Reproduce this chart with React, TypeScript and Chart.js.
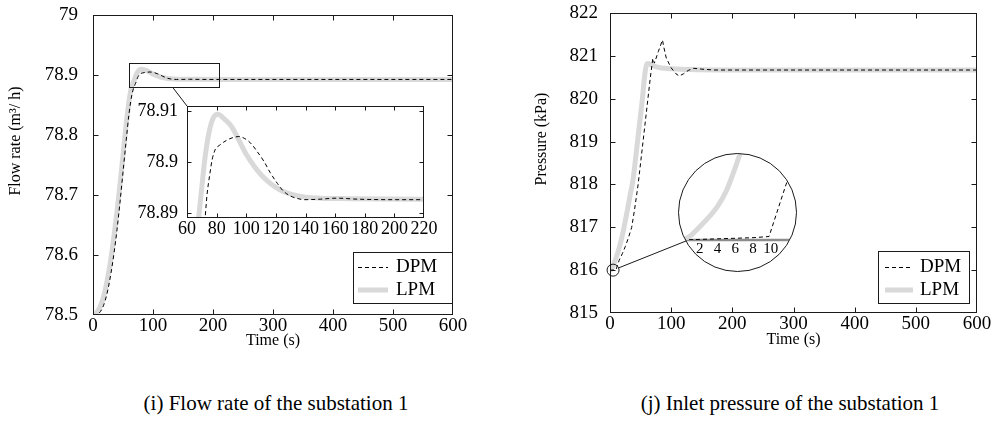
import React, { useEffect, useRef } from 'react';
import { Chart, registerables } from 'chart.js';

Chart.register(...registerables);

const FONT = '"Liberation Serif", "Times New Roman", serif';
const LPM_COLOR = '#d9d9d9';

// ---------------- data ----------------
const seriesNames = ['DPM', 'LPM'];

const timeTicks = [0, 100, 200, 300, 400, 500, 600];
const flowYTicks = [78.5, 78.6, 78.7, 78.8, 78.9, 79];
const flowInsetXTicks = [60, 80, 100, 120, 140, 160, 180, 200, 220];
const flowInsetYTicks = [78.89, 78.9, 78.91];
const pressureYTicks = [815, 816, 817, 818, 819, 820, 821, 822];
const pressureInsetXTicks = [2, 4, 6, 8, 10];

const flowLpmTime = [0, 5, 10, 15, 20, 25, 30, 35, 40, 45, 50, 55, 60, 64, 68, 70, 72, 75, 78, 81, 85, 90, 95, 100, 105, 110, 115, 120, 125, 130, 140, 150, 170, 220, 600];
const flowLpmValue = [78.5, 78.503, 78.51, 78.522, 78.54, 78.565, 78.595, 78.632, 78.672, 78.718, 78.766, 78.815, 78.856, 78.879, 78.8895, 78.895, 78.9005, 78.906, 78.9088, 78.9094, 78.9085, 78.907, 78.9043, 78.9015, 78.8993, 78.8975, 78.8961, 78.895, 78.8942, 78.8937, 78.8931, 78.8929, 78.8928, 78.8927, 78.8927];

const flowDpmTime = [0, 5, 10, 15, 20, 25, 30, 35, 40, 45, 50, 55, 60, 65, 70, 72.2, 73.5, 75.5, 77, 79, 82, 87, 91, 95, 99, 103, 107, 112, 116, 121, 125, 130, 135, 139, 150, 161, 175, 200, 600];
const flowDpmValue = [78.5, 78.5, 78.503, 78.51, 78.523, 78.543, 78.57, 78.603, 78.642, 78.688, 78.738, 78.788, 78.835, 78.868, 78.884, 78.889, 78.8935, 78.8978, 78.9005, 78.9024, 78.9033, 78.9043, 78.9048, 78.905, 78.9046, 78.9037, 78.9022, 78.9001, 78.898, 78.8958, 78.8943, 78.8933, 78.8928, 78.8926, 78.8927, 78.8929, 78.8927, 78.8926, 78.8926];

const pressureLpmTime = [0, 0.5, 1, 2, 3, 4, 5, 6, 7, 8, 10, 13, 16, 20, 23, 27, 30, 33, 37, 41, 45, 49, 53, 56, 58, 60, 62, 66, 70, 80, 90, 100, 130, 200, 600];
const pressureLpmValue = [816, 816.003, 816.008, 816.023, 816.039, 816.058, 816.085, 816.125, 816.17, 816.21, 816.29, 816.42, 816.57, 816.8, 817, 817.3, 817.52, 817.76, 818.05, 818.5, 819, 819.5, 820, 820.45, 820.68, 820.8, 820.82, 820.8, 820.77, 820.73, 820.71, 820.7, 820.68, 820.67, 820.67];

const pressureDpmTime = [0, 2, 4, 6, 8, 9.8, 11.7, 13, 15, 20, 25, 30, 35.5, 40, 46, 54, 62, 66, 70, 72.6, 79, 85.8, 88, 92, 100, 108, 113, 120, 128, 137, 150, 170, 600];
const pressureDpmValue = [816, 816.001, 816.002, 816.003, 816.004, 816.006, 816.095, 816.15, 816.23, 816.38, 816.55, 816.75, 817, 817.4, 818, 819, 820, 820.5, 820.94, 820.83, 821.1, 821.37, 821.2, 820.95, 820.72, 820.58, 820.53, 820.58, 820.66, 820.71, 820.69, 820.67, 820.67];

// zoom indicators (data units)
const flowZoomX = [60, 210];
const flowZoomY = [78.88, 78.92];
const flowZoomLinkX = 133;
const pressureZoomCenter = [5, 816];

// ---------------- layout ----------------
const L_MAIN = { left: 0, top: 0, w: 480, h: 360 };
const R_MAIN = { left: 500, top: 0, w: 496, h: 360 };
const L_INSET = { left: 120, top: 85, w: 320, h: 170 };
const R_INSET = { left: 678, top: 153, w: 119, h: 119 };
const L_INSET_AREA = { left: 187, top: 106 }; // page coords of inset plot corner
const R_INSET_ORIGIN = { x: 686, y: 241 }; // page coords where connector meets magnifier

const pts = (t: number[], v: number[]) => t.map((x, i) => ({ x, y: v[i] }));
const fmt = (v: any) => String(Math.round(Number(v) * 10000) / 10000);

function dpmDataset(t: number[], v: number[], smooth: boolean) {
  return {
    label: seriesNames[0],
    data: pts(t, v),
    borderColor: '#000',
    borderWidth: 1,
    borderDash: [4, 3],
    pointRadius: 0,
    fill: false,
    tension: 0,
    cubicInterpolationMode: smooth ? 'monotone' : 'default',
    clip: 0,
    order: 0,
  };
}
function lpmDataset(t: number[], v: number[]) {
  return {
    label: seriesNames[1],
    data: pts(t, v),
    borderColor: LPM_COLOR,
    borderWidth: 5,
    pointRadius: 0,
    fill: false,
    cubicInterpolationMode: 'monotone',
    clip: 0,
    order: 1,
  };
}

type Spec = {
  xMin: number; xMax: number; xTicks: number[];
  yMin: number; yMax: number; yTicks: number[];
  yWidth?: number; xHeight: number; showY: boolean;
  padding: { top: number; right: number; left: number; bottom: number };
  tickFont: number; yGap: number;
  datasets: any[];
  plugin: any;
};

function buildConfig(s: Spec): any {
  const yScale: any = {
    type: 'linear', min: s.yMin, max: s.yMax, bounds: 'data', display: s.showY,
    afterBuildTicks: (sc: any) => { sc.ticks = s.yTicks.map((value) => ({ value })); },
    grid: { display: false, drawTicks: true, tickLength: s.yGap },
    border: { display: false },
    ticks: { font: { family: FONT, size: s.tickFont }, color: '#000', padding: 0, autoSkip: false, callback: fmt },
  };
  if (s.yWidth !== undefined) {
    const w = s.yWidth;
    yScale.afterFit = (sc: any) => { sc.width = w; };
  }
  return {
    type: 'line',
    data: { datasets: s.datasets },
    options: {
      animation: false,
      responsive: false,
      devicePixelRatio: 1,
      events: [],
      layout: { padding: s.padding },
      plugins: { legend: { display: false }, tooltip: { enabled: false } },
      scales: {
        x: {
          type: 'linear', min: s.xMin, max: s.xMax, bounds: 'data',
          afterBuildTicks: (sc: any) => { sc.ticks = s.xTicks.map((value) => ({ value })); },
          afterFit: (sc: any) => { sc.height = s.xHeight; },
          grid: { display: false, drawTicks: false },
          border: { display: false },
          ticks: { font: { family: FONT, size: s.tickFont }, color: '#000', padding: 0, autoSkip: false, maxRotation: 0, minRotation: 0, callback: fmt },
        },
        y: yScale,
      },
    },
    plugins: [s.plugin],
  };
}

type FrameOpts = {
  fill?: boolean;
  box?: boolean;
  tickLen?: number;
  under?: (chart: any) => void;
  over?: (chart: any) => void;
};

function framePlugin(o: FrameOpts) {
  return {
    id: 'frame',
    beforeDraw(chart: any) {
      if (!o.fill) return;
      const { ctx, chartArea: a } = chart;
      ctx.save();
      ctx.fillStyle = '#fff';
      ctx.fillRect(a.left, a.top, a.right - a.left, a.bottom - a.top);
      ctx.restore();
    },
    beforeDatasetsDraw(chart: any) {
      if (o.under) { chart.ctx.save(); o.under(chart); chart.ctx.restore(); }
    },
    afterDraw(chart: any) {
      const { ctx, chartArea: a, scales } = chart;
      ctx.save();
      if (o.box) {
        const L = Math.round(a.left) + 0.5, R = Math.round(a.right) - 0.5;
        const T = Math.round(a.top) + 0.5, B = Math.round(a.bottom) - 0.5;
        ctx.strokeStyle = '#1a1a1a';
        ctx.lineWidth = 1;
        ctx.setLineDash([]);
        ctx.strokeRect(L, T, R - L, B - T);
        const len = o.tickLen || 4;
        ctx.beginPath();
        for (const t of scales.x.ticks) {
          const px = Math.round(scales.x.getPixelForValue(t.value)) + 0.5;
          if (px <= L + 1 || px >= R - 1) continue;
          ctx.moveTo(px, B); ctx.lineTo(px, B - len);
          ctx.moveTo(px, T); ctx.lineTo(px, T + len);
        }
        for (const t of scales.y.ticks) {
          const py = Math.round(scales.y.getPixelForValue(t.value)) + 0.5;
          if (py <= T + 1 || py >= B - 1) continue;
          ctx.moveTo(L, py); ctx.lineTo(L + len, py);
          ctx.moveTo(R, py); ctx.lineTo(R - len, py);
        }
        ctx.stroke();
      }
      if (o.over) o.over(chart);
      ctx.restore();
    },
  };
}

function drawTitle(ctx: any, text: string, x: number, y: number, rotate: boolean) {
  ctx.save();
  ctx.fillStyle = '#000';
  ctx.font = `16px ${FONT}`;
  ctx.textAlign = 'center';
  ctx.textBaseline = 'middle';
  ctx.translate(x, y);
  if (rotate) ctx.rotate(-Math.PI / 2);
  ctx.fillText(text, 0, 0);
  ctx.restore();
}

type LegendBox = { x: number; y: number; w: number; h: number; s0: number; s1: number; tx: number; r1: number; r2: number };
function drawLegend(ctx: any, L: LegendBox) {
  ctx.save();
  ctx.fillStyle = '#fff';
  ctx.fillRect(L.x, L.y, L.w, L.h);
  ctx.strokeStyle = '#1a1a1a';
  ctx.lineWidth = 1;
  ctx.setLineDash([]);
  ctx.strokeRect(L.x + 0.5, L.y + 0.5, L.w, L.h);
  ctx.beginPath();
  ctx.setLineDash([4, 3]);
  ctx.strokeStyle = '#000';
  ctx.moveTo(L.x + L.s0, L.y + L.r1 + 0.5);
  ctx.lineTo(L.x + L.s1, L.y + L.r1 + 0.5);
  ctx.stroke();
  ctx.beginPath();
  ctx.setLineDash([]);
  ctx.strokeStyle = LPM_COLOR;
  ctx.lineWidth = 5;
  ctx.moveTo(L.x + L.s0, L.y + L.r2);
  ctx.lineTo(L.x + L.s1, L.y + L.r2);
  ctx.stroke();
  ctx.fillStyle = '#000';
  ctx.font = `19px ${FONT}`;
  ctx.textAlign = 'left';
  ctx.textBaseline = 'middle';
  ctx.fillText(seriesNames[0], L.x + L.tx, L.y + L.r1);
  ctx.fillText(seriesNames[1], L.x + L.tx, L.y + L.r2);
  ctx.restore();
}

function flowMainConfig() {
  return buildConfig({
    xMin: 0, xMax: 600, xTicks: timeTicks,
    yMin: 78.5, yMax: 79, yTicks: flowYTicks,
    yWidth: 93, xHeight: 45, showY: true,
    padding: { top: 15, right: 27, left: 0, bottom: 0 },
    tickFont: 19, yGap: 15,
    datasets: [dpmDataset(flowDpmTime, flowDpmValue, true), lpmDataset(flowLpmTime, flowLpmValue)],
    plugin: framePlugin({
      box: true, tickLen: 5,
      over: (chart) => {
        const { ctx, chartArea: a, scales: { x, y } } = chart;
        drawTitle(ctx, 'Flow rate (m³/ h)', 16, 141, true);
        drawTitle(ctx, 'Time (s)', (a.left + a.right) / 2, 341, false);
        drawLegend(ctx, { x: 353, y: 252, w: 99, h: 51, s0: 5, s1: 35, tx: 43, r1: 15, r2: 38 });
        // zoom rectangle
        const x0 = Math.round(x.getPixelForValue(flowZoomX[0])) + 0.5;
        const x1 = Math.round(x.getPixelForValue(flowZoomX[1])) + 0.5;
        const y0 = Math.round(y.getPixelForValue(flowZoomY[1])) + 0.5;
        const y1 = Math.round(y.getPixelForValue(flowZoomY[0])) + 0.5;
        ctx.setLineDash([]);
        ctx.strokeStyle = '#1a1a1a';
        ctx.lineWidth = 1;
        ctx.strokeRect(x0, y0, x1 - x0, y1 - y0);
        ctx.beginPath();
        ctx.moveTo(x.getPixelForValue(flowZoomLinkX), y1);
        ctx.lineTo(L_INSET_AREA.left - L_MAIN.left, L_INSET_AREA.top - L_MAIN.top);
        ctx.stroke();
      },
    }),
  });
}

function flowInsetConfig() {
  return buildConfig({
    xMin: 60, xMax: 220, xTicks: flowInsetXTicks,
    yMin: 78.889, yMax: 78.911, yTicks: flowInsetYTicks,
    yWidth: 67, xHeight: 37, showY: true,
    padding: { top: 21, right: 16, left: 0, bottom: 0 },
    tickFont: 18, yGap: 9,
    datasets: [dpmDataset(flowDpmTime, flowDpmValue, true), lpmDataset(flowLpmTime, flowLpmValue)],
    plugin: framePlugin({ fill: true, box: true, tickLen: 4 }),
  });
}

function pressureMainConfig() {
  return buildConfig({
    xMin: 0, xMax: 600, xTicks: timeTicks,
    yMin: 815, yMax: 822, yTicks: pressureYTicks,
    yWidth: 110, xHeight: 47, showY: true,
    padding: { top: 13, right: 19, left: 0, bottom: 0 },
    tickFont: 19, yGap: 12,
    datasets: [dpmDataset(pressureDpmTime, pressureDpmValue, false), lpmDataset(pressureLpmTime, pressureLpmValue)],
    plugin: framePlugin({
      box: true, tickLen: 5,
      over: (chart) => {
        const { ctx, chartArea: a, scales: { x, y } } = chart;
        drawTitle(ctx, 'Pressure (kPa)', 42, 139, true);
        drawTitle(ctx, 'Time (s)', (a.left + a.right) / 2, 340, false);
        drawLegend(ctx, { x: 378, y: 251, w: 91, h: 52, s0: 7, s1: 35, tx: 42, r1: 16, r2: 39 });
        const cx = x.getPixelForValue(pressureZoomCenter[0]);
        const cy = y.getPixelForValue(pressureZoomCenter[1]);
        const r = 6;
        ctx.setLineDash([]);
        ctx.strokeStyle = '#1a1a1a';
        ctx.lineWidth = 1;
        ctx.beginPath();
        ctx.arc(cx, cy, r, 0, Math.PI * 2);
        ctx.stroke();
        const tx = R_INSET_ORIGIN.x - R_MAIN.left;
        const ty = R_INSET_ORIGIN.y - R_MAIN.top;
        const d = Math.hypot(tx - cx, ty - cy);
        ctx.beginPath();
        ctx.moveTo(cx + (r * (tx - cx)) / d, cy + (r * (ty - cy)) / d);
        ctx.lineTo(tx, ty);
        ctx.stroke();
      },
    }),
  });
}

function pressureInsetConfig() {
  return buildConfig({
    xMin: 0, xMax: 12.5, xTicks: pressureInsetXTicks,
    yMin: 816, yMax: 816.15, yTicks: [],
    xHeight: 32, showY: false,
    padding: { top: 0, right: 4, left: 4, bottom: 0 },
    tickFont: 15, yGap: 0,
    datasets: [dpmDataset(pressureDpmTime, pressureDpmValue, false), lpmDataset(pressureLpmTime, pressureLpmValue)],
    plugin: framePlugin({
      under: (chart) => {
        const { ctx, chartArea: a } = chart;
        ctx.strokeStyle = '#8c8c8c';
        ctx.lineWidth = 2.5;
        ctx.beginPath();
        ctx.moveTo(0, a.bottom);
        ctx.lineTo(chart.width, a.bottom);
        ctx.stroke();
      },
    }),
  });
}

const abs = (b: { left: number; top: number; w: number; h: number }): React.CSSProperties => ({
  position: 'absolute', left: b.left, top: b.top, width: b.w, height: b.h,
});

export default function App() {
  const mainL = useRef<HTMLCanvasElement>(null);
  const mainR = useRef<HTMLCanvasElement>(null);
  const insetL = useRef<HTMLCanvasElement>(null);
  const insetR = useRef<HTMLCanvasElement>(null);

  useEffect(() => {
    const charts = [
      new Chart(mainL.current as HTMLCanvasElement, flowMainConfig()),
      new Chart(insetL.current as HTMLCanvasElement, flowInsetConfig()),
      new Chart(mainR.current as HTMLCanvasElement, pressureMainConfig()),
      new Chart(insetR.current as HTMLCanvasElement, pressureInsetConfig()),
    ];
    return () => charts.forEach((c) => c.destroy());
  }, []);

  const caption: React.CSSProperties = {
    position: 'absolute', top: 391, width: 420, textAlign: 'center',
    fontFamily: FONT, fontSize: 21, lineHeight: '24px', color: '#000', whiteSpace: 'nowrap',
  };

  return (
    <div style={{ position: 'absolute', left: 0, top: 0, width: 996, height: 432, background: '#fff', overflow: 'hidden' }}>
      <canvas ref={mainL} width={L_MAIN.w} height={L_MAIN.h} style={abs(L_MAIN)} />
      <canvas ref={mainR} width={R_MAIN.w} height={R_MAIN.h} style={abs(R_MAIN)} />
      <canvas ref={insetL} width={L_INSET.w} height={L_INSET.h} style={abs(L_INSET)} />
      <canvas
        ref={insetR}
        width={R_INSET.w}
        height={R_INSET.h}
        style={{ ...abs(R_INSET), background: '#fff', clipPath: `circle(${R_INSET.w / 2 - 1}px at ${R_INSET.w / 2}px ${R_INSET.h / 2}px)` }}
      />
      <div
        style={{ ...abs(R_INSET), boxSizing: 'border-box', border: '1px solid #1a1a1a', borderRadius: '50%', pointerEvents: 'none' }}
      />
      <div style={{ ...caption, left: 276 - 210 }}>(i) Flow rate of the substation 1</div>
      <div style={{ ...caption, left: 790 - 210 }}>(j) Inlet pressure of the substation 1</div>
    </div>
  );
}
